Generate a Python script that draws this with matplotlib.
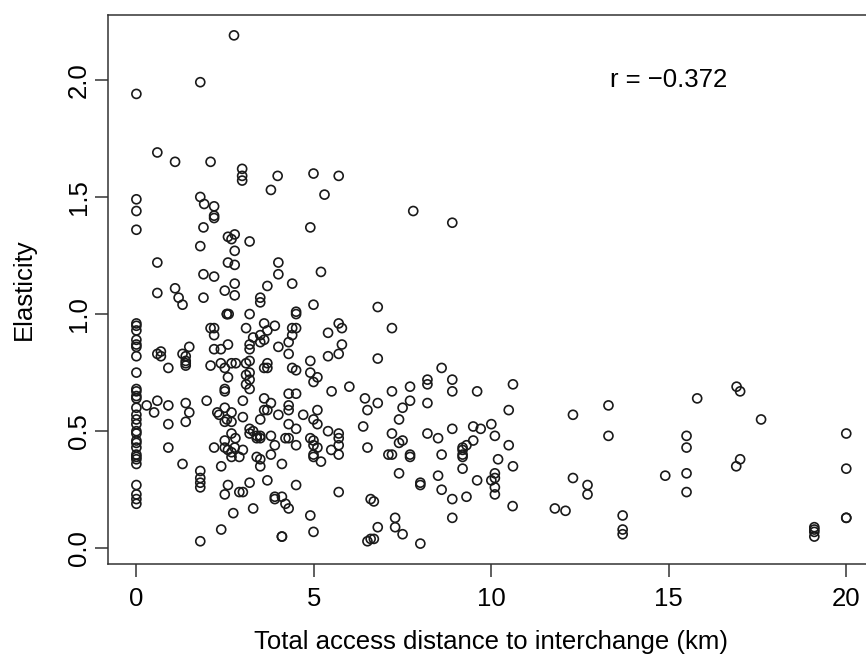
import matplotlib
matplotlib.use("Agg")
import matplotlib.pyplot as plt

# Access distance (km) and elasticity
dist_zero = [0.0] * 33
elas_zero = [1.94, 1.49, 1.44, 1.36, 0.96, 0.95, 0.93, 0.89, 0.87, 0.86, 0.82,
             0.75, 0.68, 0.67, 0.65, 0.64, 0.60, 0.57, 0.55, 0.53, 0.50, 0.49,
             0.46, 0.45, 0.43, 0.40, 0.39, 0.38, 0.36, 0.27, 0.23, 0.21, 0.19]

dist_near = [0.29, 0.50, 0.59, 0.90, 0.90, 0.59, 0.59, 0.59, 0.59, 0.69, 0.69, 0.90, 0.90,
             1.09, 1.09, 1.19, 1.30, 1.30, 1.49, 1.39, 1.39, 1.39, 1.39, 1.39, 1.49, 1.39, 1.30,
             1.80, 1.80, 1.91, 1.89, 1.80, 1.89, 1.89, 1.98, 1.80, 1.80, 1.80, 1.80, 1.80,
             2.09, 2.19, 2.19, 2.19, 2.19, 2.09, 2.19, 2.19, 2.19, 2.38, 2.09, 2.38, 2.19,
             2.28, 2.33, 2.39, 2.39,
             2.49, 2.58, 2.68, 2.77, 2.77, 2.58, 2.77, 2.77, 2.77, 2.55, 2.55, 2.60, 2.58,
             2.49, 2.68, 2.58, 2.49, 2.49, 2.49, 2.55, 2.49, 2.68, 2.68, 2.49, 2.68, 2.49,
             2.58, 2.68, 2.77, 2.68, 2.58, 2.49, 2.73, 2.75, 2.80]
elas_near = [0.61, 0.58, 0.63, 0.61, 0.53, 1.69, 1.22, 1.09, 0.83, 0.84, 0.82, 0.77, 0.43,
             1.65, 1.11, 1.07, 1.04, 0.83, 0.86, 0.82, 0.80, 0.79, 0.78, 0.62, 0.58, 0.54, 0.36,
             1.99, 1.50, 1.47, 1.37, 1.29, 1.17, 1.07, 0.63, 0.33, 0.30, 0.28, 0.26, 0.03,
             1.65, 1.46, 1.42, 1.41, 1.16, 0.94, 0.94, 0.91, 0.85, 0.85, 0.78, 0.79, 0.43,
             0.58, 0.57, 0.35, 0.08,
             1.10, 1.33, 1.32, 1.34, 1.27, 1.22, 1.21, 1.13, 1.08, 1.00, 1.00, 1.00, 0.87,
             0.77, 0.79, 0.73, 0.68, 0.67, 0.60, 0.55, 0.54, 0.58, 0.54, 0.46, 0.49, 0.43,
             0.42, 0.41, 0.43, 0.39, 0.27, 0.23, 0.15, 2.19, 0.79]

dist_mid = [2.98, 2.98, 2.98, 3.98, 3.79, 4.99, 5.70, 5.30, 4.90, 3.19, 4.00, 4.00, 5.20,
            4.39, 3.69, 3.49, 3.49, 3.19, 4.99, 4.50, 4.50, 3.09, 3.60, 3.69, 3.90, 4.39,
            4.50, 4.39, 3.29, 3.49, 3.60, 3.49, 3.19, 3.19, 4.00, 4.29, 4.29, 5.40, 5.70,
            5.79, 5.79, 5.40, 5.70, 3.09, 3.19, 3.19, 3.09, 3.19, 3.09, 3.60, 3.69, 3.69,
            4.39, 4.50, 4.90, 4.90, 5.10, 4.99, 4.29, 4.50, 5.50, 6.00,
            3.19, 3.00, 3.60, 3.79, 3.60, 3.69, 3.49, 4.00, 4.29, 4.29, 4.70, 5.10, 4.99,
            5.10, 4.29, 4.50, 3.00, 5.40, 5.70, 5.70, 5.70, 5.70, 5.49, 3.19, 3.29, 3.19,
            3.39, 3.49, 3.49, 3.39, 3.79, 4.20, 4.29, 3.90, 4.50, 4.90, 4.99, 4.99, 5.10,
            2.79, 3.00, 2.90, 3.79, 3.39, 3.49, 3.49, 4.10, 4.99, 4.99, 5.20, 3.19, 3.69,
            4.50, 2.90, 3.00, 3.90, 3.90, 4.10, 4.20, 4.29, 5.70, 3.29, 4.90, 4.99, 4.10,
            4.10]
elas_mid = [1.62, 1.59, 1.57, 1.59, 1.53, 1.60, 1.59, 1.51, 1.37, 1.31, 1.22, 1.17, 1.18,
            1.13, 1.12, 1.07, 1.05, 1.00, 1.04, 1.01, 1.00, 0.94, 0.96, 0.93, 0.95, 0.94,
            0.94, 0.91, 0.90, 0.91, 0.89, 0.88, 0.87, 0.85, 0.86, 0.88, 0.83, 0.92, 0.96,
            0.94, 0.87, 0.82, 0.83, 0.79, 0.80, 0.75, 0.74, 0.72, 0.70, 0.77, 0.79, 0.77,
            0.77, 0.76, 0.80, 0.75, 0.73, 0.71, 0.66, 0.66, 0.67, 0.69,
            0.68, 0.63, 0.64, 0.62, 0.59, 0.59, 0.55, 0.57, 0.61, 0.59, 0.57, 0.59, 0.55,
            0.53, 0.53, 0.51, 0.56, 0.50, 0.49, 0.47, 0.44, 0.40, 0.42, 0.51, 0.50, 0.49,
            0.48, 0.48, 0.47, 0.47, 0.48, 0.47, 0.47, 0.44, 0.44, 0.47, 0.46, 0.44, 0.43,
            0.47, 0.42, 0.39, 0.40, 0.39, 0.38, 0.35, 0.36, 0.40, 0.39, 0.37, 0.28, 0.29,
            0.27, 0.24, 0.24, 0.22, 0.21, 0.22, 0.19, 0.17, 0.24, 0.17, 0.14, 0.07, 0.05,
            0.05]

dist_far = [7.80, 8.90, 6.80, 7.20, 6.80, 8.60, 8.20, 8.20, 8.90, 7.71, 10.61, 7.20, 8.90,
            9.60, 6.44, 6.80, 6.51, 7.50, 7.71, 8.20, 10.49, 7.40, 6.39, 7.20, 7.50, 7.40,
            8.20, 8.50, 8.90, 9.49, 9.70, 10.00, 10.10, 9.49, 9.30, 9.19, 9.19, 9.19, 9.19,
            10.49, 6.51, 7.10, 7.20, 7.71, 7.71, 8.60, 10.19, 10.61, 9.19, 7.40, 8.50, 8.00,
            8.00, 9.60, 10.10, 10.10, 10.00, 10.10, 10.10, 8.60, 9.30, 8.90, 10.60, 11.79,
            6.60, 6.69, 7.29, 7.29, 7.50, 6.80, 8.90, 6.51, 6.60, 6.69, 8.00,
            12.30, 13.30, 13.30, 12.30, 12.71, 12.71, 12.09, 13.70, 13.70, 13.70, 15.80,
            15.50, 15.50, 14.90, 15.50, 15.50, 16.91, 17.01, 17.60, 17.01, 16.90, 19.10,
            19.10, 19.10, 19.10, 20.00, 20.00, 20.00, 20.00]
elas_far = [1.44, 1.39, 1.03, 0.94, 0.81, 0.77, 0.72, 0.70, 0.72, 0.69, 0.70, 0.67, 0.67,
            0.67, 0.64, 0.62, 0.59, 0.60, 0.63, 0.62, 0.59, 0.55, 0.52, 0.49, 0.46, 0.45,
            0.49, 0.47, 0.51, 0.52, 0.51, 0.53, 0.48, 0.46, 0.44, 0.43, 0.42, 0.40, 0.39,
            0.44, 0.43, 0.40, 0.40, 0.40, 0.39, 0.40, 0.38, 0.35, 0.34, 0.32, 0.31, 0.28,
            0.27, 0.29, 0.32, 0.30, 0.29, 0.26, 0.23, 0.25, 0.22, 0.21, 0.18, 0.17,
            0.21, 0.20, 0.13, 0.09, 0.06, 0.09, 0.13, 0.03, 0.04, 0.04, 0.02,
            0.57, 0.61, 0.48, 0.30, 0.27, 0.23, 0.16, 0.14, 0.08, 0.06, 0.64,
            0.48, 0.43, 0.31, 0.32, 0.24, 0.69, 0.67, 0.55, 0.38, 0.35, 0.09,
            0.08, 0.07, 0.05, 0.49, 0.34, 0.13, 0.13]

x_ticks = [0, 5, 10, 15, 20]
y_ticks = [0.0, 0.5, 1.0, 1.5, 2.0]
y_tick_labels = ["0.0", "0.5", "1.0", "1.5", "2.0"]
r_label = "r = \u22120.372"

FONT = 18.5
plt.rcParams["font.family"] = ["Liberation Sans", "DejaVu Sans"]

fig = plt.figure(figsize=(8.66, 6.57), dpi=100)
fig.patch.set_facecolor("white")
ax = fig.add_axes([0.1247, 0.1416, 0.8853, 0.8356])

dist = dist_zero + dist_near + dist_mid + dist_far
elas = elas_zero + elas_near + elas_mid + elas_far
ax.scatter(dist, elas, s=42, facecolors="none", edgecolors="#1a1a1a",
           linewidths=1.2, zorder=3)

ax.set_xlim(-0.8, 20.8)
ax.set_ylim(-0.067, 2.277)
ax.set_xticks(x_ticks)
ax.set_yticks(y_ticks)
ax.set_yticklabels(y_tick_labels, rotation=90, va="center")

ax.tick_params(direction="out", length=9.4, width=1.1, labelsize=FONT,
               color="#333333")
ax.tick_params(axis="x", pad=7)
ax.tick_params(axis="y", pad=3)

for spine in ax.spines.values():
    spine.set_linewidth(1.1)
    spine.set_color("#333333")

ax.set_xlabel("Total access distance to interchange (km)", fontsize=FONT,
              labelpad=14)
ax.set_ylabel("Elasticity", fontsize=FONT, labelpad=22)

ax.text(15.0, 2.0, r_label, fontsize=FONT, ha="center", va="center")

fig.savefig("out.png", dpi=100, facecolor="white")
